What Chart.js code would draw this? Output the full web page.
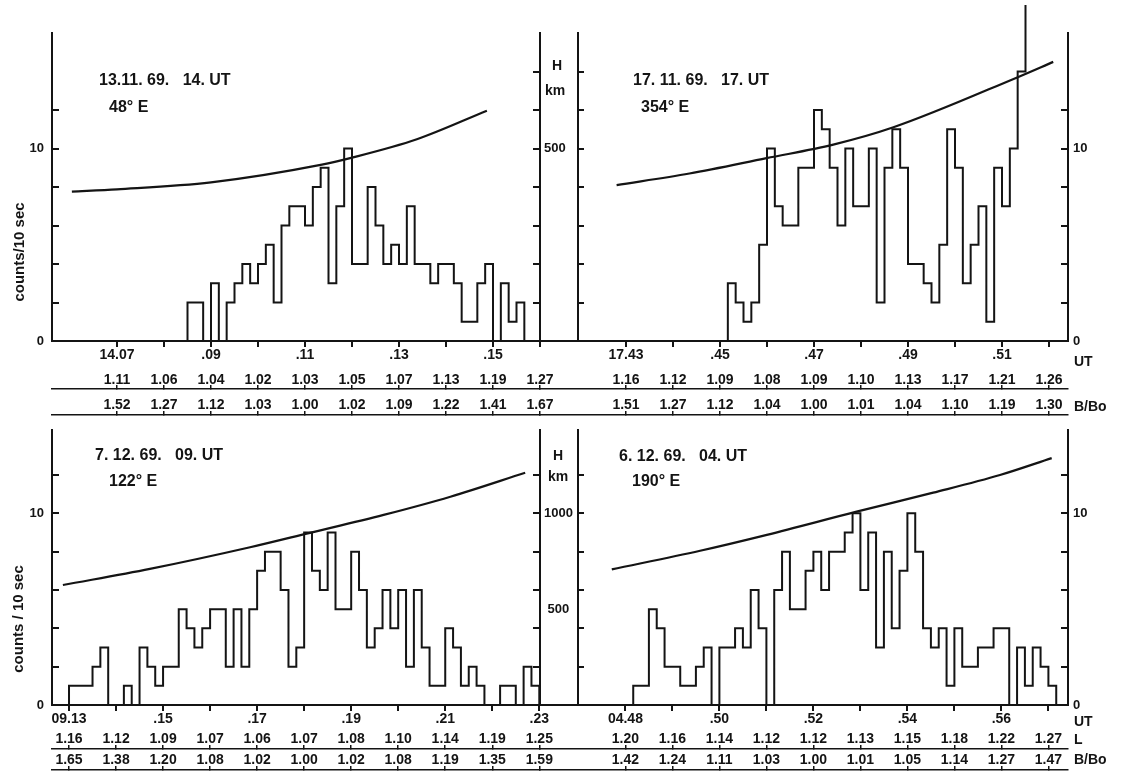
<!DOCTYPE html>
<html>
<head>
<meta charset="utf-8">
<script src="https://cdn.jsdelivr.net/npm/chart.js@4.4.0/dist/chart.umd.min.js"></script>
<style>
  html, body { margin: 0; padding: 0; background: #fff; }
  body { width: 1127px; height: 772px; position: relative; overflow: hidden;
         font-family: "Liberation Sans", Arial, Helvetica, sans-serif; font-weight: bold; color: #141414; }
  canvas { position: absolute; }
  .t { position: absolute; white-space: pre; line-height: 1; font-size: 16px; z-index: 5; }
  .s { position: absolute; white-space: pre; line-height: 1; font-size: 14px; z-index: 5; }
  .c { transform: translate(-50%, -50%); }
  .v { transform: translateY(-50%); }
  .rot { position: absolute; white-space: pre; line-height: 1; font-size: 15px; z-index: 5;
         transform: translate(-50%, -50%) rotate(-90deg); }
</style>
</head>
<body>
<canvas id="cA" width="580" height="425" style="left:0px;top:0px"></canvas>
<canvas id="cB" width="600" height="420" style="left:520px;top:5px"></canvas>
<canvas id="cC" width="580" height="372" style="left:0px;top:400px"></canvas>
<canvas id="cD" width="600" height="372" style="left:520px;top:400px"></canvas>

<div class="t" style="left:99px;top:72px">13.11. 69.   14. UT</div>
<div class="t" style="left:109px;top:99px">48° E</div>
<div class="t" style="left:633px;top:72px">17. 11. 69.   17. UT</div>
<div class="t" style="left:641px;top:99px">354° E</div>
<div class="t" style="left:95px;top:447px">7. 12. 69.   09. UT</div>
<div class="t" style="left:109px;top:473px">122° E</div>
<div class="t" style="left:619px;top:448px">6. 12. 69.   04. UT</div>
<div class="t" style="left:632px;top:473px">190° E</div>

<div class="rot" style="left:18px;top:252px">counts/10 sec</div>
<div class="rot" style="left:17px;top:619px">counts / 10 sec</div>

<div class="s c" style="left:557px;top:65px">H</div>
<div class="s c" style="left:555px;top:90px">km</div>
<div class="s c" style="left:558px;top:455px">H</div>
<div class="s c" style="left:558px;top:476px">km</div>

<div class="s v" style="left:1074px;top:361px">UT</div>
<div class="s v" style="left:1074px;top:406px">B/Bo</div>
<div class="s v" style="left:1074px;top:721px">UT</div>
<div class="s v" style="left:1074px;top:739px">L</div>
<div class="s v" style="left:1074px;top:759px">B/Bo</div>

<script>
// ---------------- DATA (times in minutes after the full hour) ----------------
// Panel A : 13.11.69, 14 UT, 48° E
const ticksA  = [7, 8, 9, 10, 11, 12, 13, 14, 15, 16];
const utA     = ['14.07', '', '.09', '', '.11', '', '.13', '', '.15', ''];
const lA      = ['1.11', '1.06', '1.04', '1.02', '1.03', '1.05', '1.07', '1.13', '1.19', '1.27'];
const bA      = ['1.52', '1.27', '1.12', '1.03', '1.00', '1.02', '1.09', '1.22', '1.41', '1.67'];
const binStartA = 8.5;          // first 10-s bin starts 14.08.30
const countsA = [2,2,0,3,0,2,3,4,3,4,5,2,6,7,7,6,8,9,3,7,10,4,4,8,6,4,5,4,7,4,4,3,4,4,3,1,1,3,4,0,3,1,2];
const hTimesA = [6.04, 7.0, 9.0, 11.36, 11.96, 13.38, 14.87];
const hKmA    = [388, 394, 412, 458, 475, 524, 598];

// Panel B : 17.11.69, 17 UT, 354° E
const ticksB  = [43, 44, 45, 46, 47, 48, 49, 50, 51, 52];
const utB     = ['17.43', '', '.45', '', '.47', '', '.49', '', '.51', ''];
const lB      = ['1.16', '1.12', '1.09', '1.08', '1.09', '1.10', '1.13', '1.17', '1.21', '1.26'];
const bB      = ['1.51', '1.27', '1.12', '1.04', '1.00', '1.01', '1.04', '1.10', '1.19', '1.30'];
const binStartB = 45 + 10 / 60; // 17.45.10
const countsB = [3,2,1,2,5,10,7,6,6,9,9,12,11,9,6,10,7,7,10,2,9,11,9,4,4,3,2,5,11,9,3,5,7,1,9,7,10,14,18];
const hTimesB = [42.80, 44.35, 45.99, 47.41, 48.69, 51.31, 52.09];
const hKmB    = [405, 435, 475, 510, 555, 684, 725];

// Panel C : 7.12.69, 09 UT, 122° E
const ticksC  = [13, 14, 15, 16, 17, 18, 19, 20, 21, 22, 23];
const utC     = ['09.13', '', '.15', '', '.17', '', '.19', '', '.21', '', '.23'];
const lC      = ['1.16', '1.12', '1.09', '1.07', '1.06', '1.07', '1.08', '1.10', '1.14', '1.19', '1.25'];
const bC      = ['1.65', '1.38', '1.20', '1.08', '1.02', '1.00', '1.02', '1.08', '1.19', '1.35', '1.59'];
const binStartC = 13;           // 09.13.00
const countsC = [1,1,1,2,3,0,0,1,0,3,2,1,2,2,5,4,3,4,5,5,2,5,2,5,7,8,8,6,2,3,9,7,6,9,5,5,8,6,3,4,6,4,6,2,6,3,1,1,4,3,1,2,1,0,0,1,1,0,2,1];
const hTimesC = [12.87, 14.72, 16.85, 18.10, 19.69, 21.11, 22.70];
const hKmC    = [626, 710, 823, 897, 992, 1087, 1212];

// Panel D : 6.12.69, 04 UT, 190° E
const ticksD  = [48, 49, 50, 51, 52, 53, 54, 55, 56, 57];
const utD     = ['04.48', '', '.50', '', '.52', '', '.54', '', '.56', ''];
const lD      = ['1.20', '1.16', '1.14', '1.12', '1.12', '1.13', '1.15', '1.18', '1.22', '1.27'];
const bD      = ['1.42', '1.24', '1.11', '1.03', '1.00', '1.01', '1.05', '1.14', '1.27', '1.47'];
const binStartD = 48 + 10 / 60; // 04.48.10
const countsD = [1,1,5,4,2,2,1,1,2,3,0,3,3,4,3,6,4,0,6,8,5,5,7,8,6,8,8,9,10,6,9,3,8,4,7,10,8,4,3,4,1,4,2,2,3,3,4,4,0,3,1,3,2,1];
const hTimesD = [47.71, 49.59, 51.01, 52.92, 54.55, 55.97, 57.07];
const hKmD    = [708, 805, 888, 1009, 1108, 1200, 1288];

// axis tick sets
const countTicksLeft  = [0, 2, 4, 6, 8, 10, 12];
const countTicksInner = [2, 4, 6, 8, 10, 12, 14];
const countTicksInnerLow = [2, 4, 6, 8, 10, 12];
const countLabels = [0, 10];
const hTicksTop = [100, 200, 300, 400, 500, 600, 700];
const hMarksTop = [100, 200, 300, 400, 500, 600, 700];
const hLabelsTop = [500];
const hTicksBottom = [200, 400, 500, 600, 800, 1000, 1200];
const hMarksBottom = [200, 400, 600, 800, 1000, 1200];
const hLabelsBottom = [500, 1000];

// ---------------- RENDERING ----------------
const INK = '#141414';
Chart.defaults.font.family = "'Liberation Sans', Arial, Helvetica, sans-serif";
Chart.defaults.font.weight = 'bold';
Chart.defaults.font.size = 13;
Chart.defaults.color = INK;

function histPoints(start, counts, closed) {
  const pts = [{ x: start, y: 0 }];
  counts.forEach((c, k) => pts.push({ x: start + k / 6, y: c }));
  if (closed) pts.push({ x: start + counts.length / 6, y: 0 });
  return pts;
}
function curvePoints(ts, hs) { return ts.map((t, i) => ({ x: t, y: hs[i] })); }
function fixTicks(vals) { return s => { s.ticks = vals.map(v => ({ value: v })); }; }

function xAxes(p) {
  const base = { type: 'linear', position: 'bottom', min: p.xMin, max: p.xMax, afterBuildTicks: fixTicks(p.ticks) };
  const tk = { autoSkip: false, maxRotation: 0, minRotation: 0 };
  return {
    x: Object.assign({}, base, {
      weight: 0,
      ticks: Object.assign({}, tk, {
        padding: p.utPad, font: { size: 14, lineHeight: p.utLH + 'px' },
        callback: v => { const i = p.ticks.indexOf(v); return i < 0 ? '' : [p.ut[i], p.L[i]]; }
      }),
      grid: { drawOnChartArea: false, tickLength: 6, tickWidth: 2, tickColor: INK, lineWidth: 2 },
      border: { display: true, width: 2, color: INK },
      afterFit: s => { s.height = p.utH; }
    }),
    xB: Object.assign({}, base, {
      weight: 1,
      ticks: Object.assign({}, tk, {
        padding: p.bPad, font: { size: 14, lineHeight: 1.2 },
        callback: v => { const i = p.ticks.indexOf(v); return i < 0 ? '' : p.B[i]; }
      }),
      grid: { drawOnChartArea: false, tickLength: -4, tickWidth: 1.5, tickColor: INK, lineWidth: 1.5 },
      border: { display: true, width: 1.5, color: INK },
      afterFit: s => { s.height = p.bH; }
    }),
    xE: Object.assign({}, base, {
      weight: 2,
      ticks: { display: false },
      grid: { drawOnChartArea: false, tickLength: -4, tickWidth: 1.5, tickColor: INK, lineWidth: 1.5 },
      border: { display: true, width: 1.5, color: INK },
      afterFit: s => { s.height = 2; }
    })
  };
}

function datasets(p) {
  return [
    { label: 'counts/10 sec', data: histPoints(p.binStart, p.counts, p.closed), xAxisID: 'x', yAxisID: 'y',
      stepped: true, borderColor: INK, borderWidth: 2, pointRadius: 0, fill: false, clip: false },
    { label: 'H km', data: curvePoints(p.hT, p.hK), xAxisID: 'x', yAxisID: 'yH',
      cubicInterpolationMode: 'monotone', borderColor: INK, borderWidth: 2.2, pointRadius: 0, fill: false }
  ];
}

function commonOptions(p, scales) {
  return {
    responsive: false, animation: false, devicePixelRatio: 1, events: [],
    layout: { padding: p.pad },
    plugins: { legend: { display: false }, tooltip: { enabled: false }, title: { display: false } },
    scales: scales
  };
}

function leftPanel(id, p) {
  const scales = Object.assign(xAxes(p), {
    y: { type: 'linear', position: 'left', min: 0, max: p.yMax, afterBuildTicks: fixTicks(countTicksLeft),
         ticks: { padding: 15, callback: v => countLabels.includes(v) ? String(v) : '' },
         grid: { drawOnChartArea: false, tickLength: -7, tickWidth: 2, tickColor: INK, lineWidth: 2 },
         border: { display: true, width: 2, color: INK },
         afterFit: s => { s.width = 52; } },
    yH: { type: 'linear', display: false, min: 0, max: p.hMax }
  });
  return new Chart(document.getElementById(id), { type: 'line', data: { datasets: datasets(p) }, options: commonOptions(p, scales) });
}

function rightPanel(id, p) {
  const scales = Object.assign(xAxes(p), {
    yH: { type: 'linear', position: 'left', min: 0, max: p.hMax, afterBuildTicks: fixTicks(p.hTicks),
          ticks: { mirror: true, padding: 4, crossAlign: 'center', callback: v => p.hLabels.includes(v) ? String(v) : '' },
          grid: { drawOnChartArea: false, tickLength: 7, tickWidth: 2, lineWidth: 2,
                  tickColor: c => (c.tick && p.hMarks.includes(c.tick.value)) ? INK : 'rgba(0,0,0,0)' },
          border: { display: true, width: 2, color: INK },
          afterFit: s => { s.width = 20; } },
    yc: { type: 'linear', position: { x: p.countAxisX }, min: 0, max: p.yMax, afterBuildTicks: fixTicks(p.innerTicks),
          ticks: { display: false },
          grid: { drawOnChartArea: false, tickLength: -7, tickWidth: 2, tickColor: INK, lineWidth: 2 },
          border: { display: true, width: 2, color: INK } },
    y: { type: 'linear', position: 'right', min: 0, max: p.yMax, afterBuildTicks: fixTicks(countTicksLeft),
         ticks: { padding: 12, callback: v => countLabels.includes(v) ? String(v) : '' },
         grid: { drawOnChartArea: false, tickLength: -7, tickWidth: 2, tickColor: INK, lineWidth: 2 },
         border: { display: true, width: 2, color: INK },
         afterFit: s => { s.width = 40; } }
  });
  return new Chart(document.getElementById(id), { type: 'line', data: { datasets: datasets(p) }, options: commonOptions(p, scales) });
}

const topRow = { yMax: 16, hMax: 800, utPad: -4.5, utLH: 25, utH: 48, bPad: 11.6, bH: 26 };
const botRow = { yMax: 14.35, hMax: 1435, utPad: -2, utLH: 20, utH: 44, bPad: 6.6, bH: 21 };

leftPanel('cA', Object.assign({}, topRow, {
  ticks: ticksA, ut: utA, L: lA, B: bA, binStart: binStartA, counts: countsA, closed: true,
  hT: hTimesA, hK: hKmA, xMin: 7 - 65 / 47, xMax: 16,
  pad: { left: 0, top: 33, right: 40, bottom: 8 }
}));
rightPanel('cB', Object.assign({}, topRow, {
  ticks: ticksB, ut: utB, L: lB, B: bB, binStart: binStartB, counts: countsB, closed: false,
  hT: hTimesB, hK: hKmB, xMin: 43 - 86 / 47, xMax: 43 + 442 / 47, countAxisX: 43 - 48 / 47,
  innerTicks: countTicksInner, hTicks: hTicksTop, hMarks: hMarksTop, hLabels: hLabelsTop,
  pad: { left: 0, top: 28, right: 12, bottom: 8 }
}));
leftPanel('cC', Object.assign({}, botRow, {
  ticks: ticksC, ut: utC, L: lC, B: bC, binStart: binStartC, counts: countsC, closed: true,
  hT: hTimesC, hK: hKmC, xMin: 13 - 17 / 47, xMax: 23.015,
  pad: { left: 0, top: 30, right: 40, bottom: 0 }
}));
rightPanel('cD', Object.assign({}, botRow, {
  ticks: ticksD, ut: utD, L: lD, B: bD, binStart: binStartD, counts: countsD, closed: true,
  hT: hTimesD, hK: hKmD, xMin: 48 - 85.4 / 47, xMax: 48 + 442.6 / 47, countAxisX: 48 - 47.9 / 47,
  innerTicks: countTicksInnerLow, hTicks: hTicksBottom, hMarks: hMarksBottom, hLabels: hLabelsBottom,
  pad: { left: 0, top: 30, right: 12, bottom: 0 }
}));
</script>
</body>
</html>
